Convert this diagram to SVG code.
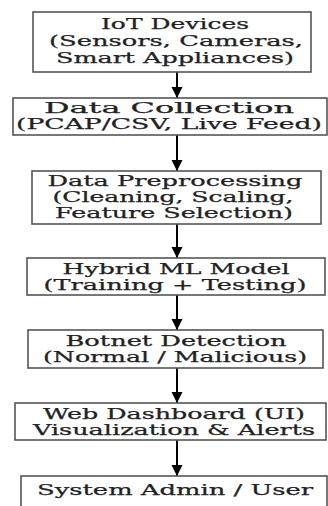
<svg xmlns="http://www.w3.org/2000/svg" width="328" height="506" viewBox="0 0 328 506">
<defs>
<marker id="ah" markerWidth="12" markerHeight="12" refX="11" refY="6" orient="auto" markerUnits="userSpaceOnUse">
<path d="M0,0.5 L11,6 L0,11.5 Z" fill="#000"/>
</marker>
<style>
.box{fill:#fff;stroke:#555;stroke-width:1.6}
.t{font-family:"DejaVu Serif",serif;font-size:14.5px;fill:#222;stroke:#222;stroke-width:0.25;text-anchor:middle}
.c{stroke:#000;stroke-width:2;fill:none}
</style>
</defs>
<rect width="328" height="506" fill="#fff"/>
<g id="connectors">
<line class="c" x1="177" y1="72" x2="177" y2="98" marker-end="url(#ah)"/>
<line class="c" x1="177" y1="135" x2="177" y2="171" marker-end="url(#ah)"/>
<line class="c" x1="177" y1="224" x2="177" y2="258" marker-end="url(#ah)"/>
<line class="c" x1="177" y1="295" x2="177" y2="330" marker-end="url(#ah)"/>
<line class="c" x1="177" y1="368" x2="177" y2="403" marker-end="url(#ah)"/>
<line class="c" x1="177" y1="440" x2="177" y2="476" marker-end="url(#ah)"/>
</g>
<g id="n1">
<rect class="box" x="33" y="12" width="278" height="60"/>
<text class="t" x="175" y="29" textLength="148" lengthAdjust="spacingAndGlyphs">IoT Devices</text>
<text class="t" x="176" y="46" textLength="254" lengthAdjust="spacingAndGlyphs">(Sensors, Cameras,</text>
<text class="t" x="175" y="63" textLength="238" lengthAdjust="spacingAndGlyphs">Smart Appliances)</text>
</g>
<g id="n2">
<rect class="box" x="13" y="98" width="314" height="37"/>
<text class="t" x="169" y="113" textLength="250" lengthAdjust="spacingAndGlyphs">Data Collection</text>
<text class="t" x="169" y="129" textLength="306" lengthAdjust="spacingAndGlyphs">(PCAP/CSV, Live Feed)</text>
</g>
<g id="n3">
<rect class="box" x="32" y="171" width="289" height="53"/>
<text class="t" x="175" y="186" textLength="255" lengthAdjust="spacingAndGlyphs">Data Preprocessing</text>
<text class="t" x="173" y="202" textLength="241" lengthAdjust="spacingAndGlyphs">(Cleaning, Scaling,</text>
<text class="t" x="174" y="218" textLength="238" lengthAdjust="spacingAndGlyphs">Feature Selection)</text>
</g>
<g id="n4">
<rect class="box" x="27" y="258" width="298" height="37"/>
<text class="t" x="176" y="274" textLength="227" lengthAdjust="spacingAndGlyphs">Hybrid ML Model</text>
<text class="t" x="175" y="290" textLength="263" lengthAdjust="spacingAndGlyphs">(Training + Testing)</text>
</g>
<g id="n5">
<rect class="box" x="28" y="330" width="295" height="38"/>
<text class="t" x="176" y="346" textLength="221" lengthAdjust="spacingAndGlyphs">Botnet Detection</text>
<text class="t" x="175" y="362" textLength="264" lengthAdjust="spacingAndGlyphs">(Normal / Malicious)</text>
</g>
<g id="n6">
<rect class="box" x="15" y="403" width="311" height="37"/>
<text class="t" x="174" y="419" textLength="262" lengthAdjust="spacingAndGlyphs">Web Dashboard (UI)</text>
<text class="t" x="174" y="435" textLength="282" lengthAdjust="spacingAndGlyphs">Visualization &amp; Alerts</text>
</g>
<g id="n7">
<rect class="box" x="21" y="476" width="306" height="40"/>
<text class="t" x="175" y="495" textLength="276" lengthAdjust="spacingAndGlyphs">System Admin / User</text>
</g>
</svg>
